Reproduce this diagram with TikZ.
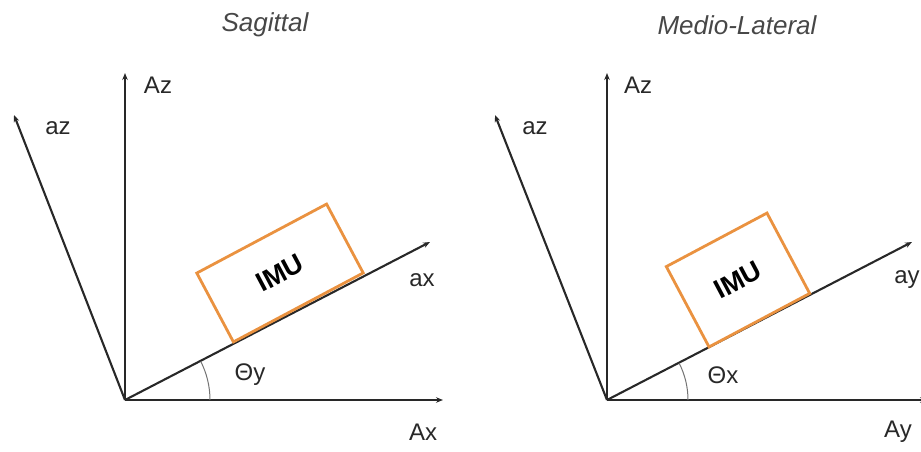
\documentclass[tikz,border=0pt]{standalone}
\usepackage{fontspec}
\setmainfont{Liberation Sans}
\usetikzlibrary{arrows.meta}
\definecolor{imuorange}{RGB}{234,146,64}
\definecolor{axisgray}{RGB}{40,40,40}

\begin{document}
\begin{tikzpicture}[x=1pt, y=1pt,
	axis/.style={draw=axisgray, line width=2.1pt, -{Stealth[length=7pt,width=5.5pt]}},
	lbl/.style={text=axisgray, font=\fontsize{24}{28}\selectfont, inner sep=0pt},
	ttl/.style={text=black!72, font=\fontsize{26}{30}\selectfont\itshape, inner sep=0pt},
	imu/.style={draw=imuorange, line width=2.8pt, inner sep=0pt, rotate=28,
		font=\fontsize{27}{31}\selectfont\bfseries},
	anglearc/.style={draw=black!55, line width=1pt}]
	\useasboundingbox (0,0) rectangle (921,451);

	% Sagittal
	\coordinate (o1) at (125,51);
	\coordinate (Az1) at (125,378);
	\coordinate (az1) at (14,336);
	\coordinate (ax1) at (430,209);
	\coordinate (Ax1) at (443,51);
	\draw[axis] (o1) -- (Az1);
	\draw[axis] (o1) -- (az1);
	\draw[axis] (o1) -- (ax1);
	\draw[axis] (o1) -- (Ax1);
	\draw[anglearc] (o1) ++(85,0) arc[start angle=0, end angle=27, radius=85];
	\node[imu, minimum width=147pt, minimum height=78pt] (imu1) at (280,178) {IMU};
	\node[ttl] (ttl1) at (265,426) {Sagittal};
	\node[lbl] (lAz1) at (158,366) {Az};
	\node[lbl] (laz1) at (58,323) {az};
	\node[lbl] (lax1) at (422,171) {ax};
	\node[lbl] (lAx1) at (423,19) {Ax};
	\node[lbl] (lth1) at (250,76) {Θy};

	% Medio-Lateral
	\coordinate (o2) at (607,51);
	\coordinate (Az2) at (607,378);
	\coordinate (az2) at (495,336);
	\coordinate (ay2) at (912,209);
	\coordinate (Ay2) at (927,51);
	\draw[axis] (o2) -- (Az2);
	\draw[axis] (o2) -- (az2);
	\draw[axis] (o2) -- (ay2);
	\draw[axis] (o2) -- (Ay2);
	\draw[anglearc] (o2) ++(81,0) arc[start angle=0, end angle=27, radius=81];
	\node[imu, minimum width=114pt, minimum height=91pt] (imu2) at (738,171) {IMU};
	\node[ttl] (ttl2) at (737,426) {Medio-Lateral};
	\node[lbl] (lAz2) at (638,366) {Az};
	\node[lbl] (laz2) at (535,323) {az};
	\node[lbl] (lay2) at (907,171) {ay};
	\node[lbl] (lAy2) at (898,19) {Ay};
	\node[lbl] (lth2) at (723,76) {Θx};
\end{tikzpicture}
\end{document}
